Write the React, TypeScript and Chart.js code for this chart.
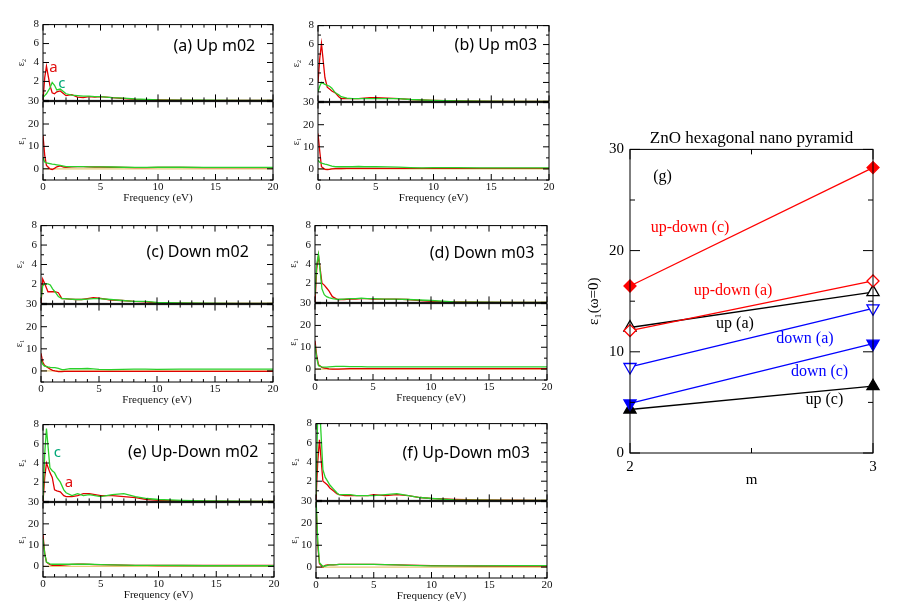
import React, { useEffect, useRef } from 'react';
import { Chart, registerables } from 'chart.js';

Chart.register(...registerables);

// ---------- data: small panels ----------
const FREQ = [0, 0.15, 0.3, 0.6, 0.8, 1.0, 1.2, 1.5, 1.8, 2.0, 2.5, 3, 3.5, 4, 4.5, 5, 6, 7, 8, 9, 10, 12, 14, 17, 20];
const X_TICKS = [0, 5, 10, 15, 20];
const E2_TICKS = [2, 4, 6, 8];
const E1_TICKS = [0, 10, 20, 30];
const ZERO_X = [0, 20];
const ZERO_Y = [0, 0];

const A_E2_RED = [0, 2.4, 3.6, 1.6, 0.8, 0.7, 0.9, 1.0, 0.7, 0.5, 0.6, 0.35, 0.3, 0.4, 0.35, 0.4, 0.3, 0.2, 0.1, 0.06, 0.04, 0.02, 0.01, 0, 0];
const A_E2_GREEN = [0.3, 0.5, 0.7, 1.3, 1.9, 1.6, 1.1, 1.2, 0.9, 0.7, 0.55, 0.5, 0.45, 0.45, 0.4, 0.4, 0.3, 0.25, 0.15, 0.1, 0.05, 0.03, 0.02, 0.01, 0];
const A_E1_RED = [15, 6, 1.5, 0, -0.3, 0.2, 0.9, 1.3, 0.8, 0.6, 0.9, 1.0, 1.0, 0.9, 0.8, 0.8, 0.7, 0.6, 0.5, 0.5, 0.6, 0.6, 0.5, 0.5, 0.5];
const A_E1_GREEN = [5, 3, 2.6, 2.3, 2.1, 2.0, 1.8, 1.5, 1.2, 1.0, 1.0, 1.0, 1.0, 0.9, 0.9, 0.9, 0.8, 0.7, 0.6, 0.6, 0.7, 0.7, 0.6, 0.6, 0.6];

const B_E2_RED = [2, 4.5, 6.1, 2.5, 1.5, 1.3, 1.1, 0.9, 0.5, 0.3, 0.3, 0.3, 0.3, 0.35, 0.4, 0.4, 0.35, 0.3, 0.2, 0.15, 0.1, 0.05, 0.02, 0.01, 0];
const B_E2_GREEN = [1.0, 1.6, 2.0, 1.8, 1.7, 1.6, 1.4, 0.9, 0.7, 0.5, 0.35, 0.3, 0.3, 0.3, 0.3, 0.3, 0.3, 0.3, 0.2, 0.15, 0.1, 0.05, 0.02, 0.01, 0];
const B_E1_RED = [16, 8, 1, -0.2, -0.3, -0.2, 0, 0.1, 0.2, 0.2, 0.3, 0.3, 0.3, 0.3, 0.3, 0.3, 0.3, 0.3, 0.3, 0.3, 0.3, 0.3, 0.3, 0.3, 0.3];
const B_E1_GREEN = [4, 3, 2.6, 2.2, 2.0, 1.6, 1.3, 1.0, 1.0, 1.0, 1.0, 1.0, 1.1, 1.0, 1.0, 1.0, 0.9, 0.8, 0.6, 0.5, 0.6, 0.6, 0.5, 0.5, 0.5];

const C_E2_RED = [0, 2.5, 2.1, 1.2, 1.2, 1.2, 1.2, 1.1, 0.5, 0.5, 0.45, 0.4, 0.4, 0.5, 0.6, 0.55, 0.35, 0.3, 0.2, 0.15, 0.05, 0.02, 0.01, 0, 0];
const C_E2_GREEN = [0.5, 1.8, 2.0, 2.0, 1.9, 1.5, 1.2, 0.7, 0.5, 0.5, 0.45, 0.4, 0.4, 0.45, 0.5, 0.5, 0.4, 0.3, 0.2, 0.2, 0.1, 0.05, 0.02, 0.01, 0];
const C_E1_RED = [8, 4, 2.5, 1.5, 0.8, 0.3, 0, -0.3, -0.3, -0.2, -0.2, -0.2, -0.2, -0.2, -0.2, -0.2, -0.2, -0.2, -0.2, -0.2, -0.2, -0.2, -0.2, -0.2, -0.2];
const C_E1_GREEN = [5, 3, 2.2, 1.8, 1.6, 1.5, 1.5, 1.2, 0.6, 0.6, 1.0, 1.0, 1.0, 1.1, 0.9, 0.7, 0.6, 0.7, 0.8, 0.8, 0.7, 0.8, 0.8, 0.8, 0.8];

const D_E2_RED = [0, 3.5, 4.9, 2.0, 1.8, 1.5, 1.2, 0.6, 0.4, 0.3, 0.3, 0.35, 0.35, 0.4, 0.4, 0.35, 0.35, 0.35, 0.3, 0.2, 0.1, 0.05, 0.02, 0.01, 0];
const D_E2_GREEN = [0.8, 4.0, 5.0, 1.4, 0.8, 0.6, 0.5, 0.4, 0.35, 0.3, 0.35, 0.4, 0.4, 0.45, 0.4, 0.4, 0.35, 0.35, 0.3, 0.25, 0.2, 0.05, 0.02, 0.01, 0];
const D_E1_RED = [13, 6, 2, 0.8, 0.5, 0.3, 0.1, 0, 0, 0, 0.1, 0.2, 0.2, 0.2, 0.2, 0.2, 0.2, 0.2, 0.2, 0.2, 0.2, 0.2, 0.2, 0.2, 0.2];
const D_E1_GREEN = [11, 5, 1.5, 1.0, 0.9, 0.9, 1.0, 1.1, 1.2, 1.2, 1.2, 1.1, 1.1, 1.1, 1.0, 1.0, 1.0, 1.0, 1.0, 1.0, 1.0, 1.0, 1.0, 1.0, 1.0];

const E_E2_RED = [0, 2.5, 4.0, 3.0, 2.5, 1.2, 1.1, 1.0, 0.6, 0.5, 0.5, 0.6, 0.8, 0.8, 0.7, 0.6, 0.6, 0.5, 0.4, 0.2, 0.1, 0.05, 0.02, 0.01, 0];
const E_E2_GREEN = [0.2, 5, 7.6, 3.5, 3.2, 3.0, 2.5, 2.0, 1.2, 0.9, 0.6, 0.8, 0.6, 0.7, 0.6, 0.5, 0.7, 0.8, 0.5, 0.3, 0.2, 0.1, 0.05, 0.02, 0];
const E_E1_RED = [15, 6, 2, 0.8, 0.5, 0.5, 0.6, 0.5, 0.6, 0.7, 0.9, 1.0, 1.0, 0.9, 0.8, 0.8, 0.7, 0.6, 0.5, 0.5, 0.4, 0.4, 0.4, 0.4, 0.4];
const E_E1_GREEN = [13, 6, 2, 1.2, 1.0, 1.0, 1.0, 1.0, 1.0, 1.0, 1.0, 1.0, 1.0, 1.0, 0.9, 0.8, 0.7, 0.6, 0.5, 0.5, 0.5, 0.4, 0.3, 0.3, 0.3];

const F_E2_RED = [0, 4, 6.3, 2.0, 1.8, 1.6, 1.3, 1.0, 0.7, 0.6, 0.5, 0.5, 0.5, 0.5, 0.5, 0.6, 0.5, 0.6, 0.5, 0.3, 0.2, 0.1, 0.05, 0.02, 0];
const F_E2_GREEN = [0.5, 9, 10, 3.2, 2.4, 2.0, 1.6, 1.2, 0.8, 0.6, 0.6, 0.6, 0.5, 0.5, 0.5, 0.5, 0.6, 0.7, 0.5, 0.3, 0.2, 0.05, 0.02, 0.01, 0];
const F_E1_RED = [30, 10, 1.5, 0, 0.8, 1.0, 1.0, 1.0, 1.1, 1.2, 1.2, 1.2, 1.2, 1.2, 1.2, 1.2, 1.1, 1.0, 0.9, 0.8, 0.7, 0.6, 0.5, 0.5, 0.5];
const F_E1_GREEN = [32, 12, 2, 0.3, 0.5, 0.8, 1.0, 1.0, 1.1, 1.2, 1.2, 1.2, 1.2, 1.2, 1.2, 1.2, 1.1, 1.0, 0.8, 0.7, 0.6, 0.6, 0.6, 0.7, 0.7];

// ---------- data: panel (g) ----------
const M_VALUES = [2, 3];
const M_TICKS = [2, 3];
const G_TICKS = [0, 10, 20, 30];
const UPDOWN_C = [16.5, 28.2];
const UPDOWN_A = [12.1, 17.0];
const UP_A = [12.4, 15.9];
const DOWN_A = [8.5, 14.3];
const DOWN_C = [4.9, 10.8];
const UP_C = [4.3, 6.6];

// ---------- styles / layout ----------
const SERIF = "'Liberation Serif', 'DejaVu Serif', serif";
const SANS = "'Noto Sans', 'Open Sans', sans-serif";
const RED = '#e00000';
const GREEN = '#2ad02a';
const ZERO_COLOR = '#e8c878';
const WY = 28;
const HX = 25;
const PAD = 10;

type Note = { text: string; x: number; y: number; color: string; font: string };

const PANELS = [
  { L: 43, R: 273, T: 24, M: 101, B: 180, title: '(a) Up m02', tx: 14.9, ty: 5.7, e2: [A_E2_RED, A_E2_GREEN], e1: [A_E1_RED, A_E1_GREEN],
    extra: [{ text: 'a', x: 0.9, y: 3.4, color: '#e01010' }, { text: 'c', x: 1.65, y: 1.8, color: '#00a878' }] },
  { L: 318, R: 549, T: 25, M: 102, B: 180, title: '(b) Up m03', tx: 15.4, ty: 5.9, e2: [B_E2_RED, B_E2_GREEN], e1: [B_E1_RED, B_E1_GREEN], extra: [] },
  { L: 41, R: 273, T: 225, M: 304, B: 382, title: '(c) Down m02', tx: 13.5, ty: 5.2, e2: [C_E2_RED, C_E2_GREEN], e1: [C_E1_RED, C_E1_GREEN], extra: [] },
  { L: 315, R: 547, T: 225, M: 303, B: 380, title: '(d) Down m03', tx: 14.4, ty: 5.1, e2: [D_E2_RED, D_E2_GREEN], e1: [D_E1_RED, D_E1_GREEN], extra: [] },
  { L: 43, R: 274, T: 424, M: 502, B: 577, title: '(e) Up-Down m02', tx: 13.0, ty: 5.1, e2: [E_E2_RED, E_E2_GREEN], e1: [E_E1_RED, E_E1_GREEN],
    extra: [{ text: 'c', x: 1.25, y: 5.1, color: '#00a878' }, { text: 'a', x: 2.25, y: 1.95, color: '#e01010' }] },
  { L: 316, R: 547, T: 423, M: 501, B: 578, title: '(f) Up-Down m03', tx: 13.0, ty: 4.9, e2: [F_E2_RED, F_E2_GREEN], e1: [F_E1_RED, F_E1_GREEN], extra: [] },
];

// ---------- plugins ----------
function framePlugin(xMinor: number, xMajor: number, yMinor: number, yMajor: number, minorLen: number, majorLen: number) {
  const steps = (min: number, max: number, step: number) => {
    const out: number[] = [];
    for (let k = Math.ceil(min / step - 1e-9); k * step <= max + 1e-9; k++) out.push(k * step);
    return out;
  };
  const isMajor = (v: number, major: number) => Math.abs(v / major - Math.round(v / major)) < 1e-6;
  return {
    id: 'frame',
    afterDatasetsDraw(chart: any) {
      const { ctx, chartArea: a } = chart;
      const xs = chart.scales.x;
      const ys = chart.scales.y;
      ctx.save();
      ctx.strokeStyle = '#000';
      ctx.lineWidth = 1;
      ctx.beginPath();
      for (const v of steps(xs.min, xs.max, xMinor)) {
        const p = xs.getPixelForValue(v);
        const len = isMajor(v, xMajor) ? majorLen : minorLen;
        ctx.moveTo(p, a.bottom); ctx.lineTo(p, a.bottom - len);
        ctx.moveTo(p, a.top); ctx.lineTo(p, a.top + len);
      }
      for (const v of steps(ys.min, ys.max, yMinor)) {
        const p = ys.getPixelForValue(v);
        const len = isMajor(v, yMajor) ? majorLen : minorLen;
        ctx.moveTo(a.left, p); ctx.lineTo(a.left + len, p);
        ctx.moveTo(a.right, p); ctx.lineTo(a.right - len, p);
      }
      ctx.stroke();
      ctx.strokeRect(a.left, a.top, a.right - a.left, a.bottom - a.top);
      ctx.restore();
    },
  };
}

function notesPlugin(notes: Note[]) {
  return {
    id: 'notes',
    afterDraw(chart: any) {
      const { ctx } = chart;
      const xs = chart.scales.x;
      const ys = chart.scales.y;
      ctx.save();
      ctx.textAlign = 'center';
      ctx.textBaseline = 'middle';
      for (const n of notes) {
        ctx.font = n.font;
        ctx.fillStyle = n.color;
        ctx.fillText(n.text, xs.getPixelForValue(n.x), ys.getPixelForValue(n.y));
      }
      ctx.restore();
    },
  };
}

const pts = (xs: number[], ys: number[]) => xs.map((x, i) => ({ x, y: ys[i] }));
const setTicks = (vals: number[]) => (s: any) => { s.ticks = vals.map((v) => ({ value: v })); };

function subConfig(isTop: boolean, red: number[], green: number[], notes: Note[]) {
  const datasets: any[] = [
    { data: pts(FREQ, green), borderColor: GREEN, borderWidth: 1.3 },
    { data: pts(FREQ, red), borderColor: RED, borderWidth: 1.3 },
  ];
  if (!isTop) datasets.push({ data: pts(ZERO_X, ZERO_Y), borderColor: ZERO_COLOR, borderWidth: 1.2 });
  const tickFont = { family: SERIF, size: 11 };
  return {
    type: 'line',
    data: { datasets },
    options: {
      animation: false,
      responsive: false,
      events: [],
      layout: { padding: { left: 0, right: PAD, top: PAD, bottom: isTop ? PAD : 0 } },
      plugins: { legend: { display: false }, tooltip: { enabled: false } },
      elements: { point: { radius: 0 }, line: { tension: 0, fill: false } },
      scales: {
        x: {
          type: 'linear', min: 0, max: 20, display: !isTop,
          afterBuildTicks: setTicks(X_TICKS),
          grid: { display: false, drawTicks: false },
          border: { display: false },
          ticks: { font: tickFont, color: '#111', padding: 1, maxRotation: 0, autoSkip: false },
          title: { display: true, text: 'Frequency (eV)', font: tickFont, color: '#111', padding: { top: 0, bottom: 0 } },
          afterFit: (s: any) => { s.height = isTop ? 0 : HX; },
        },
        y: {
          type: 'linear', min: isTop ? 0 : -5, max: isTop ? 8 : 30,
          afterBuildTicks: setTicks(isTop ? E2_TICKS : E1_TICKS),
          grid: { display: false, drawTicks: false },
          border: { display: false },
          ticks: { font: tickFont, color: '#111', padding: 4, autoSkip: false },
          title: { display: true, text: isTop ? 'ε₂' : 'ε₁', font: { family: SERIF, size: 10 }, color: '#111', padding: { top: 0, bottom: 0 } },
          afterFit: (s: any) => { s.width = WY; },
        },
      },
    },
    plugins: [framePlugin(1, 5, isTop ? 1 : 5, isTop ? 2 : 10, 3, 6), notesPlugin(notes)],
  };
}

function gConfig() {
  const mk = (vals: number[], color: string, style: string, filled: boolean, rot = 0) => ({
    data: pts(M_VALUES, vals),
    borderColor: color,
    borderWidth: 1.3,
    pointStyle: style,
    pointRotation: rot,
    pointRadius: style === 'rectRot' ? 6 : 7,
    pointBorderColor: color,
    pointBorderWidth: 1.3,
    pointBackgroundColor: filled ? color : '#fff',
    clip: false,
  });
  const noteFont = `16px ${SERIF}`;
  const notes: Note[] = [
    { text: '(g)', x: 2.134, y: 27.3, color: '#000', font: noteFont },
    { text: 'up-down (c)', x: 2.247, y: 22.3, color: '#ff0000', font: noteFont },
    { text: 'up-down (a)', x: 2.424, y: 16.0, color: '#ff0000', font: noteFont },
    { text: 'up (a)', x: 2.432, y: 12.8, color: '#000', font: noteFont },
    { text: 'down (a)', x: 2.72, y: 11.25, color: '#0000ff', font: noteFont },
    { text: 'down (c)', x: 2.78, y: 8.0, color: '#0000ff', font: noteFont },
    { text: 'up (c)', x: 2.8, y: 5.3, color: '#000', font: noteFont },
  ];
  const tickFont = { family: SERIF, size: 15 };
  return {
    type: 'line',
    data: {
      datasets: [
        mk(UPDOWN_C, '#ff0000', 'rectRot', true),
        mk(UPDOWN_A, '#ff0000', 'rectRot', false),
        mk(UP_A, '#000000', 'triangle', false),
        mk(DOWN_A, '#0000ff', 'triangle', false, 180),
        mk(DOWN_C, '#0000ff', 'triangle', true, 180),
        mk(UP_C, '#000000', 'triangle', true),
      ],
    },
    options: {
      animation: false,
      responsive: false,
      events: [],
      layout: { padding: { left: 0, right: 12, top: 0, bottom: 0 } },
      plugins: {
        legend: { display: false },
        tooltip: { enabled: false },
        title: { display: true, fullSize: false, text: 'ZnO hexagonal nano pyramid', font: { family: SERIF, size: 17, weight: 'normal' }, color: '#000', padding: { top: 4, bottom: 1 } },
      },
      elements: { line: { tension: 0 } },
      scales: {
        x: {
          type: 'linear', min: 2, max: 3,
          afterBuildTicks: setTicks(M_TICKS),
          grid: { display: false, drawTicks: false },
          border: { display: false },
          ticks: { font: tickFont, color: '#000', padding: 5, maxRotation: 0, autoSkip: false },
          title: { display: true, text: 'm', font: tickFont, color: '#000', padding: { top: 0, bottom: 0 } },
          afterFit: (s: any) => { s.height = 36; },
        },
        y: {
          type: 'linear', min: 0, max: 30,
          afterBuildTicks: setTicks(G_TICKS),
          grid: { display: false, drawTicks: false },
          border: { display: false },
          ticks: { font: tickFont, color: '#000', padding: 6, autoSkip: false },
          title: { display: true, text: 'ε₁(ω=0)', font: tickFont, color: '#000', padding: { top: 0, bottom: 0 } },
          afterFit: (s: any) => { s.width = 45; },
        },
      },
    },
    plugins: [framePlugin(0.5, 1, 5, 10, 5, 10), notesPlugin(notes)],
  };
}

function ChartCanvas({ left, top, width, height, build }: { left: number; top: number; width: number; height: number; build: () => any }) {
  const ref = useRef<HTMLCanvasElement | null>(null);
  useEffect(() => {
    if (!ref.current) return;
    const chart = new Chart(ref.current, build());
    return () => chart.destroy();
  }, []);
  return <canvas ref={ref} width={width} height={height} style={{ position: 'absolute', left, top, width, height }} />;
}

export default function App() {
  const items: any[] = [];
  PANELS.forEach((p, i) => {
    const w = p.R - p.L + WY + PAD;
    const titleNote: Note = { text: p.title, x: p.tx, y: p.ty, color: '#000', font: `16px ${SANS}` };
    const extraNotes: Note[] = p.extra.map((e) => ({ ...e, font: `15px ${SANS}` }));
    items.push(
      <ChartCanvas key={`t${i}`} left={p.L - WY} top={p.T - PAD} width={w} height={p.M - p.T + 2 * PAD}
        build={() => subConfig(true, p.e2[0], p.e2[1], [titleNote, ...extraNotes])} />
    );
    items.push(
      <ChartCanvas key={`b${i}`} left={p.L - WY} top={p.M - PAD} width={w} height={p.B - p.M + PAD + HX}
        build={() => subConfig(false, p.e1[0], p.e1[1], [])} />
    );
  });
  return (
    <div style={{ position: 'fixed', left: 0, top: 0, width: 901, height: 614, background: '#fff', overflow: 'hidden' }}>
      {items}
      <ChartCanvas left={585} top={124} width={300} height={365} build={gConfig} />
    </div>
  );
}
